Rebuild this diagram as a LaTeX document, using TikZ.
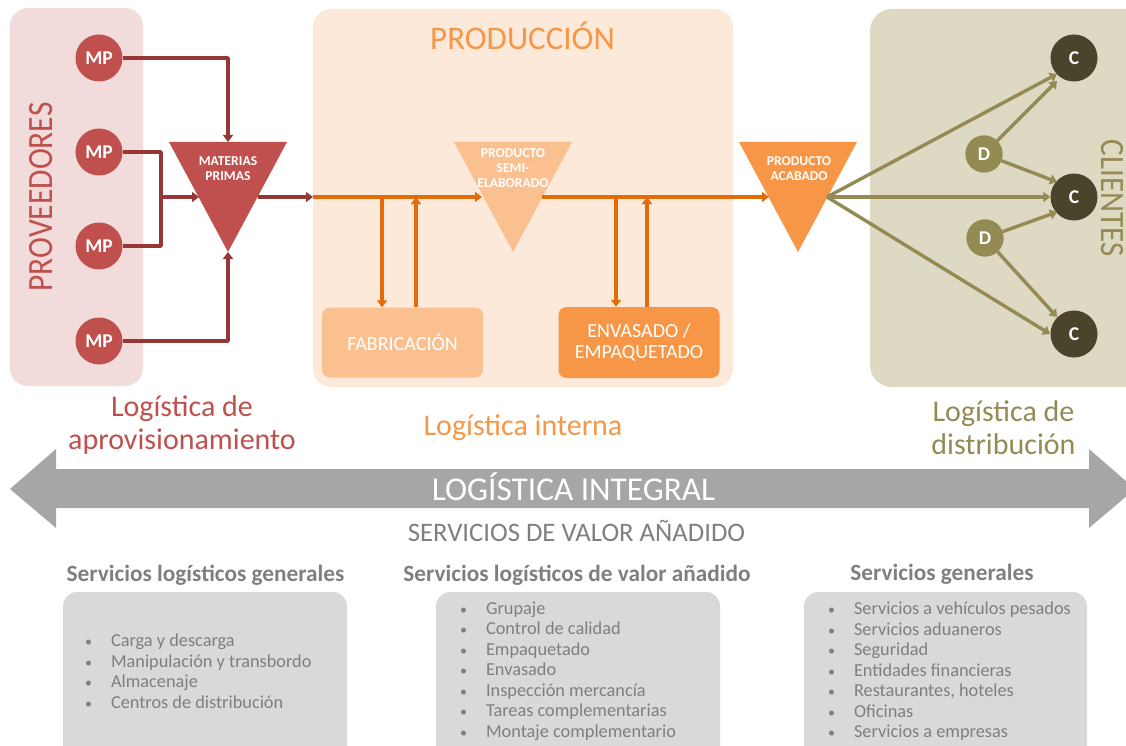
\documentclass[tikz,border=0pt]{standalone}
\usepackage{fontspec}
\usepackage{graphicx}
\setmainfont{Carlito}
\usetikzlibrary{arrows.meta,calc}
\definecolor{redm}{HTML}{C0504D}
\definecolor{redd}{HTML}{953735}
\definecolor{redl}{HTML}{F2DCDB}
\definecolor{orgm}{HTML}{F79646}
\definecolor{orgd}{HTML}{E36C09}
\definecolor{orgl}{HTML}{FDE9D9}
\definecolor{orgs}{HTML}{FAC090}
\definecolor{olvl}{HTML}{DDD9C3}
\definecolor{olvm}{HTML}{948A54}
\definecolor{olvd}{HTML}{4A452A}
\definecolor{gryb}{HTML}{A6A6A6}
\definecolor{gryt}{HTML}{7F7F7F}
\definecolor{gryl}{HTML}{D9D9D9}
\tikzset{
 x=1pt,y=-1pt,
 disc/.style={circle,minimum width=47pt,minimum height=47pt,inner sep=0pt,text=white,font=\fontsize{19.5}{19.5}\selectfont\bfseries},
 dnode/.style={disc,minimum width=37pt,minimum height=37pt,fill=olvm},
 trilabel/.style={text=white,align=center,font=\fontsize{13.6}{15}\selectfont\bfseries},
 tipr/.style={-{Triangle[length=7pt,width=10pt]}},
 redline/.style={draw=redd,line width=3.4pt,line join=round},
 orgline/.style={draw=orgd,line width=3.4pt,line join=round},
 olvline/.style={draw=olvm,line width=3.4pt,line join=round},
 process/.style={rounded corners=8pt,text=white,inner sep=0pt,align=center,font=\fontsize{20}{21.5}\selectfont},
 head/.style={font=\fontsize{23.3}{23.3}\selectfont\bfseries,text=gryt},
 litem/.style={text=gryt,align=left,font=\fontsize{18.3}{20.5}\selectfont,anchor=west},
 biglabel/.style={align=center,font=\fontsize{30}{33}\selectfont},
}
\newcommand{\listtext}[1]{\begin{tabular}{@{}l@{}l@{}}#1\end{tabular}}
\newcommand{\bul}{\makebox[26pt][l]{\fontsize{14}{14}\selectfont •}}
\begin{document}
\begin{tikzpicture}
\useasboundingbox (0,0) rectangle (1126,746);
% panels
\fill[redl,rounded corners=18pt] (10,8) rectangle (143,386);
\fill[orgl,rounded corners=18pt] (313,9) rectangle (733,387);
\begin{scope}
\clip (0,0) rectangle (1126,746);
\fill[olvl,rounded corners=22pt] (870,9) rectangle (1160,387);
\end{scope}
% triangles
\fill[redm] (169,142) -- (287,142) -- (228,252) -- cycle;
\fill[orgs] (454,142) -- (572,142) -- (513,252) -- cycle;
\fill[orgm] (739,142) -- (857,142) -- (798,252) -- cycle;
\coordinate (t1tip) at (228,252); \coordinate (t1top) at (228,142);
\coordinate (t1l) at (199,197); \coordinate (t1r) at (258,197);
\coordinate (t2l) at (482,197); \coordinate (t2r) at (542,197);
\coordinate (t3l) at (769,197); \coordinate (t3r) at (827,197);
\coordinate (entry) at (313,197);
\node[trilabel] (lmat) at (228,168.5) {MATERIAS\\PRIMAS};
\node[trilabel] (lsem) at (513,168.5) {PRODUCTO\\SEMI-\\ELABORADO};
\node[trilabel] (lpro) at (799,168.5) {PRODUCTO\\ACABADO};
% MP
\node[disc,fill=redm] (mp1) at (99,58) {MP};
\node[disc,fill=redm] (mp2) at (99,152) {\raisebox{-1pt}{MP}};
\node[disc,fill=redm] (mp3) at (99,246) {\raisebox{-1pt}{MP}};
\node[disc,fill=redm] (mp4) at (99,341) {MP};
% C, D
\node[disc,fill=olvd] (c1) at (1074,58) {C};
\node[disc,fill=olvd] (c2) at (1074,197) {C};
\node[disc,fill=olvd] (c3) at (1074,334) {C};
\node[dnode] (d1) at (984,154) {D};
\node[dnode] (d2) at (985,238) {D};
% process boxes
\node[process,fill=orgs,minimum width=161pt,minimum height=70pt] (fab) at (402.5,342.5) {FABRICACIÓN};
\node[process,fill=orgm,minimum width=161pt,minimum height=71pt] (env) at (639,342.5) {\raisebox{-1pt}{ENVASADO /}\\EMPAQUETADO};
% connectors
\coordinate (j1) at (161,197);
\draw[redline,tipr] (mp1.east) -- (228,58) -- (t1top);
\draw[redline] (mp2.east) -- (161,152) -- (161,246) -- (mp3.east);
\draw[redline,tipr] (j1) -- (t1l);
\draw[redline,tipr] (mp4.east) -- (228,341) -- (t1tip);
\draw[redline,tipr] (t1r) -- (entry);
\draw[orgline,tipr] (entry) -- (t2l);
\draw[orgline,tipr] (t2r) -- (t3l);
\coordinate (a1) at (382,197); \coordinate (a2) at (416,197);
\coordinate (a3) at (616,197); \coordinate (a4) at (647,197);
\draw[orgline,tipr] (a1) -- (a1 |- fab.north);
\draw[orgline,tipr] (a2 |- fab.north) -- (a2);
\draw[orgline,tipr] (a3) -- (a3 |- env.north);
\draw[orgline,tipr] (a4 |- env.north) -- (a4);
\draw[olvline,tipr] (t3r) -- (1057,74);
\draw[olvline,tipr] (t3r) -- (c2.west);
\draw[olvline,tipr] (t3r) -- (1050,334);
\draw[olvline,tipr] (d1) -- (1057,81);
\draw[olvline,tipr] (d1) -- (1057,182);
\draw[olvline,tipr] (d2) -- (1057,212);
\draw[olvline,tipr] (d2) -- (1057,317);
\node[dnode] at (d1) {D};
\node[dnode] at (d2) {D};
% rotated titles
\node[rotate=90,text=redm,font=\fontsize{31.5}{31.5}\selectfont] (tprov) at (41.5,197) {\scalebox{1}[1.13]{PROVEEDORES}};
\node[rotate=-90,text=olvm,font=\fontsize{31}{31}\selectfont] (tcli) at (1112.5,198) {\scalebox{1}[1.1]{CLIENTES}};
\node[text=orgm,font=\fontsize{33}{33}\selectfont] (tprod) at (522.5,36) {PRODUCCIÓN};
% logistics captions
\node[biglabel,text=redm] (c1l) at (182,424.5) {Logística de\\aprovisionamiento};
\node[biglabel,text=orgm] (c2l) at (523,428) {Logística interna};
\node[biglabel,text=olvm] (c3l) at (1003.5,427.5) {Logística de\\distribución};
% big arrow
\fill[gryb] (10,489) -- (56,449) -- (56,469) -- (1089,469) -- (1089,449) -- (1135,489) -- (1089,528) -- (1089,508) -- (56,508) -- (56,528) -- cycle;
\node[text=white,font=\fontsize{33.3}{33.3}\selectfont] (tint) at (573.5,487) {LOGÍSTICA INTEGRAL};
\node[text=gryt,font=\fontsize{26.7}{26.7}\selectfont] (tserv) at (576.5,531) {SERVICIOS DE VALOR AÑADIDO};
% heads
\node[head] (h1) at (205.5,575) {Servicios logísticos generales};
\node[head] (h2) at (577,575) {Servicios logísticos de valor añadido};
\node[head] (h3) at (942,574) {Servicios generales};
% boxes
\begin{scope}
\clip (0,0) rectangle (1126,746);
\fill[gryl,rounded corners=14pt] (63,592) rectangle (347,770);
\fill[gryl,rounded corners=14pt] (436,592) rectangle (720,770);
\fill[gryl,rounded corners=14pt] (804,592) rectangle (1087,770);
\end{scope}
\node[litem] (l1) at (81.5,673.5) {\listtext{\bul&Carga y descarga\\\bul&Manipulación y transbordo\\\bul&Almacenaje\\\bul&Centros de distribución}};
\node[litem] (l2) at (456.5,671.5) {\listtext{\bul&Grupaje\\\bul&Control de calidad\\\bul&Empaquetado\\\bul&Envasado\\\bul&Inspección mercancía\\\bul&Tareas complementarias\\\bul&Montaje complementario}};
\node[litem] (l3) at (824.5,672) {\listtext{\bul&Servicios a vehículos pesados\\\bul&Servicios aduaneros\\\bul&Seguridad\\\bul&Entidades financieras\\\bul&Restaurantes, hoteles\\\bul&Oficinas\\\bul&Servicios a empresas}};
\end{tikzpicture}
\end{document}
